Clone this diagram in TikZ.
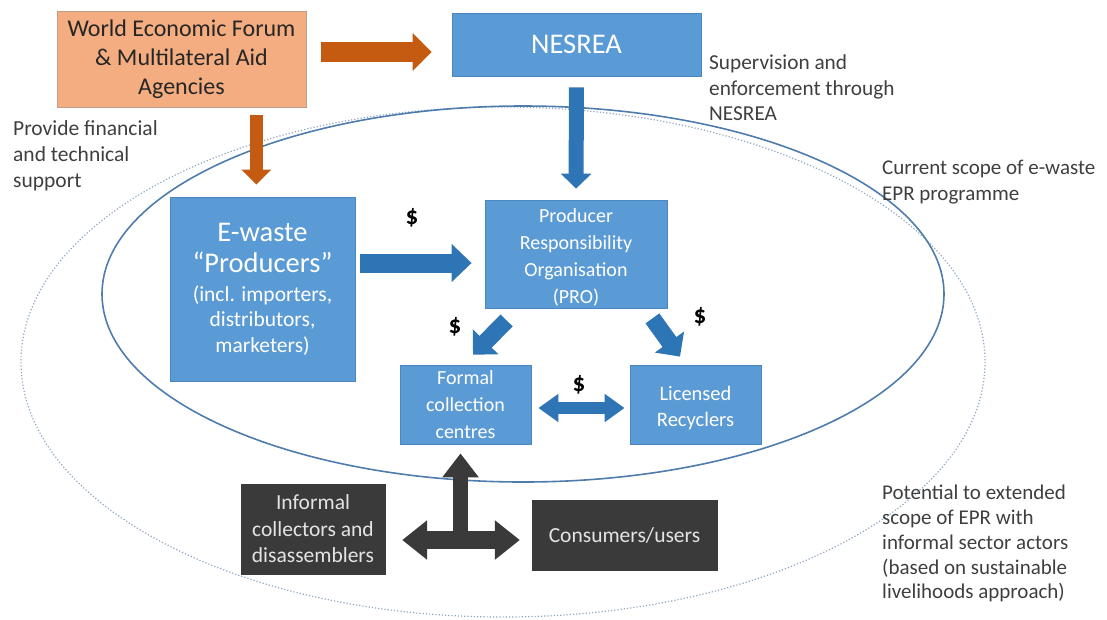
\documentclass[tikz,border=0pt]{standalone}
\usepackage{fontspec}
\setmainfont{Carlito}
\usetikzlibrary{arrows.meta,calc}

\definecolor{boxblue}{HTML}{5B9BD5}
\definecolor{boxedge}{HTML}{4A86C0}
\definecolor{arrowblue}{HTML}{2E75B6}
\definecolor{boxorange}{HTML}{F4AD80}
\definecolor{orangeedge}{HTML}{C29E88}
\definecolor{arroworange}{HTML}{C55A11}
\definecolor{darkbox}{HTML}{3A3A3A}
\definecolor{darktext}{HTML}{E4E4E4}
\definecolor{labeltext}{HTML}{3F3F3F}
\definecolor{scopeline}{HTML}{4F7CAC}
\definecolor{potentialline}{HTML}{8FA6C2}

\newcommand{\fsz}[2]{\fontsize{#1}{#2}\selectfont}
% extra room above the first line, to lower a text block inside its box
\newcommand{\topgap}[1]{\rule{0pt}{#1}}

\begin{document}
\begin{tikzpicture}[x=1pt,y=-1pt,
  bluebox/.style={draw=boxedge, fill=boxblue, line width=0.8pt, inner sep=0pt,
    align=center, text=white},
  orangebox/.style={draw=orangeedge, fill=boxorange, line width=0.8pt, inner sep=0pt,
    align=center, text=black!85},
  darkbox/.style={draw=darkbox, fill=darkbox, inner sep=0pt, align=center, text=darktext},
  note/.style={inner sep=0pt, align=left, text=labeltext, anchor=north west},
  money/.style={inner sep=0pt, font=\fsz{25}{28}\bfseries},
  orangearrow/.style={draw=arroworange, line width=#1},
  bluearrow/.style={draw=arrowblue, line width=#1},
  grayarrow/.style={draw=darkbox, line width=#1},
]
\useasboundingbox (0,0) rectangle (1107,619);

% scope ellipses
\draw[potentialline, line width=1.2pt, dotted] (503,362) ellipse [x radius=482, y radius=255];
\draw[scopeline, line width=1.6pt] (523,294) ellipse [x radius=421, y radius=188];

% boxes
\node[orangebox, minimum width=249pt, minimum height=96pt, font=\fsz{24}{29}] (wef) at (181.5,59)
  {World Economic Forum\\\& Multilateral Aid\\Agencies};
\node[bluebox, minimum width=249pt, minimum height=63pt, font=\fsz{28.5}{34}] (nesrea) at (576.5,44.5)
  {NESREA};
\node[bluebox, minimum width=185pt, minimum height=184pt, font=\fsz{21.5}{25}] (prod) at (262.5,289)
  {\fsz{28.5}{34}E-waste\\[6pt]\fsz{28.5}{34}“Producers”\\[4pt](incl. importers,\\distributors,\\[1pt]marketers)};
\node[bluebox, minimum width=182pt, minimum height=108pt, font=\fsz{20}{27}] (pro) at (576,254)
  {\topgap{20pt}Producer\\Responsibility\\Organisation\\(PRO)};
\node[bluebox, minimum width=131pt, minimum height=79pt, font=\fsz{20}{27}] (formal) at (465.5,404.5)
  {Formal\\collection\\centres};
\node[bluebox, minimum width=131pt, minimum height=79pt, font=\fsz{20.5}{26}] (recyc) at (695.5,404.5)
  {\topgap{20.5pt}Licensed\\Recyclers};
\node[darkbox, minimum width=144pt, minimum height=90pt, font=\fsz{21.5}{26.5}] (informal) at (313,529)
  {Informal\\collectors and\\disassemblers};
\node[darkbox, minimum width=185pt, minimum height=70pt, font=\fsz{21.5}{26}] (consumers) at (624.5,535)
  {Consumers/users};

% side notes
\node[note, font=\fsz{21.5}{26}] (support) at (13,120) {Provide financial\\and technical\\support};
\node[note, font=\fsz{21.3}{25.5}] (supervision) at (709,55) {Supervision and\\enforcement through\\NESREA};
\node[note, font=\fsz{21}{26}] (current) at (882,160) {Current scope of e-waste\\EPR programme};
\node[note, font=\fsz{21}{24.8}] (potential) at (882,485) {Potential to extended\\scope of EPR with\\informal sector actors\\(based on sustainable\\livelihoods approach)};

% money labels
\node[money] (m1) at (412,218) {\$};
\node[money] (m2) at (455,327) {\$};
\node[money] (m3) at (700,317) {\$};
\node[money] (m4) at (579,385) {\$};

% orange support arrows
\draw[orangearrow=20pt, -{Triangle[length=19pt,width=37pt]}]
  ($(wef.east)+(15,-7)$) -- ($(nesrea.west)+(-20,7.5)$);
\coordinate (fundtop) at ($(wef.south east)+(-50,8)$);
\draw[orangearrow=13pt, -{Triangle[length=15pt,width=29pt]}, shorten >=12pt]
  (fundtop) -- (fundtop |- prod.north);

% supervision arrow
\draw[bluearrow=15pt, -{Triangle[length=15pt,width=30pt]}, shorten <=11pt, shorten >=11pt]
  (nesrea.south) -- (pro.north);

% money flows
\draw[bluearrow=19pt, -{Triangle[length=20pt,width=37pt]}]
  ($(prod.east)+(5,-26)$) -- ($(pro.west)+(-13,9)$);
\draw[bluearrow=17pt, -{Triangle[length=18pt,width=35pt]}]
  ($(pro.south west)+(22,12)$) -- ($(formal.north)+(7.5,-10)$);
\draw[bluearrow=17pt, -{Triangle[length=18pt,width=35pt]}]
  ($(pro.south east)+(-15,10)$) -- ($(recyc.north)+(-15.5,-8)$);
\draw[bluearrow=12pt, {Triangle[length=20pt,width=27pt]}-{Triangle[length=20pt,width=27pt]}]
  ($(formal.east)+(7,3.5)$) -- ($(recyc.west)+(-5,3.5)$);

% informal sector links
\coordinate (hub) at ($(formal.south)+(-5,96)$);
\draw[grayarrow=15pt, -{Triangle[length=24pt,width=35pt]}, shorten >=9pt]
  (hub) -- (hub |- formal.south);
\draw[grayarrow=18pt, {Triangle[length=25pt,width=38pt]}-{Triangle[length=25pt,width=38pt]}]
  ($(informal.east)+(17,11)$) -- ($(consumers.west)+(-12,5)$);
\end{tikzpicture}
\end{document}
